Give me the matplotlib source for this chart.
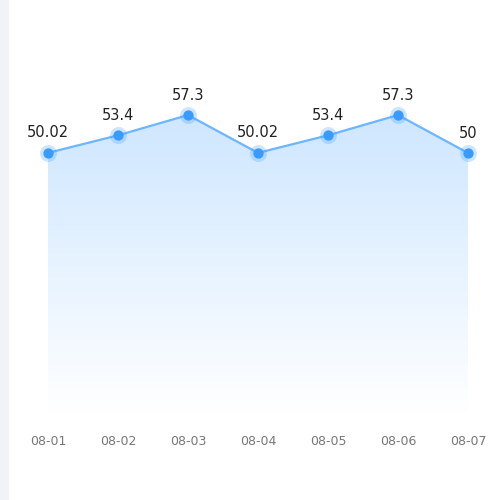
import matplotlib
matplotlib.use("Agg")
import matplotlib.pyplot as plt
import numpy as np
from matplotlib.patches import Polygon, Rectangle

dates = ["08-01", "08-02", "08-03", "08-04", "08-05", "08-06", "08-07"]
values = [50.02, 53.4, 57.3, 50.02, 53.4, 57.3, 50]
labels = ["50.02", "53.4", "57.3", "50.02", "53.4", "57.3", "50"]

fig = plt.figure(figsize=(5, 5), dpi=100)
# light strip at left edge
fig.patches.append(Rectangle((0, 0), 8 / 500, 1, transform=fig.transFigure,
                             color="#f2f3f8", zorder=0))

ax = fig.add_axes([48 / 500, 1 - 413 / 500, 420 / 500, 312 / 500])
x = np.arange(len(dates))
ax.set_xlim(0, len(dates) - 1)
ax.set_ylim(0, 60)

# gradient fill under the line
grad = np.linspace(0, 1, 256).reshape(-1, 1)
top = np.array([0.80, 0.90, 1.0])
bot = np.array([1.0, 1.0, 1.0])
img = top * grad[..., None] + bot * (1 - grad[..., None])
im = ax.imshow(img, extent=[0, len(dates) - 1, 0, 60], origin="lower",
               aspect="auto", zorder=1)
poly = Polygon(list(zip(x, values)) + [(x[-1], 0), (0, 0)], closed=True,
               facecolor="none", edgecolor="none")
ax.add_patch(poly)
im.set_clip_path(poly)

ax.plot(x, values, color="#6cb6ff", lw=1.6, zorder=3, clip_on=False)
ax.scatter(x, values, s=150, color="#3a9bff", alpha=0.25, zorder=4, clip_on=False, lw=0)
ax.scatter(x, values, s=55, color="#3a9bff", zorder=5, clip_on=False, lw=0)

for xi, v, t in zip(x, values, labels):
    ax.annotate(t, (xi, v), xytext=(0, 9), textcoords="offset points",
                ha="center", va="bottom", fontsize=10.5, color="#222222")

ax.set_xticks(x)
ax.set_xticklabels(dates, color="#777777", fontsize=9)
ax.tick_params(axis="x", length=0, pad=16)
ax.set_yticks([])
for s in ax.spines.values():
    s.set_visible(False)

fig.savefig("out.png", dpi=100)
